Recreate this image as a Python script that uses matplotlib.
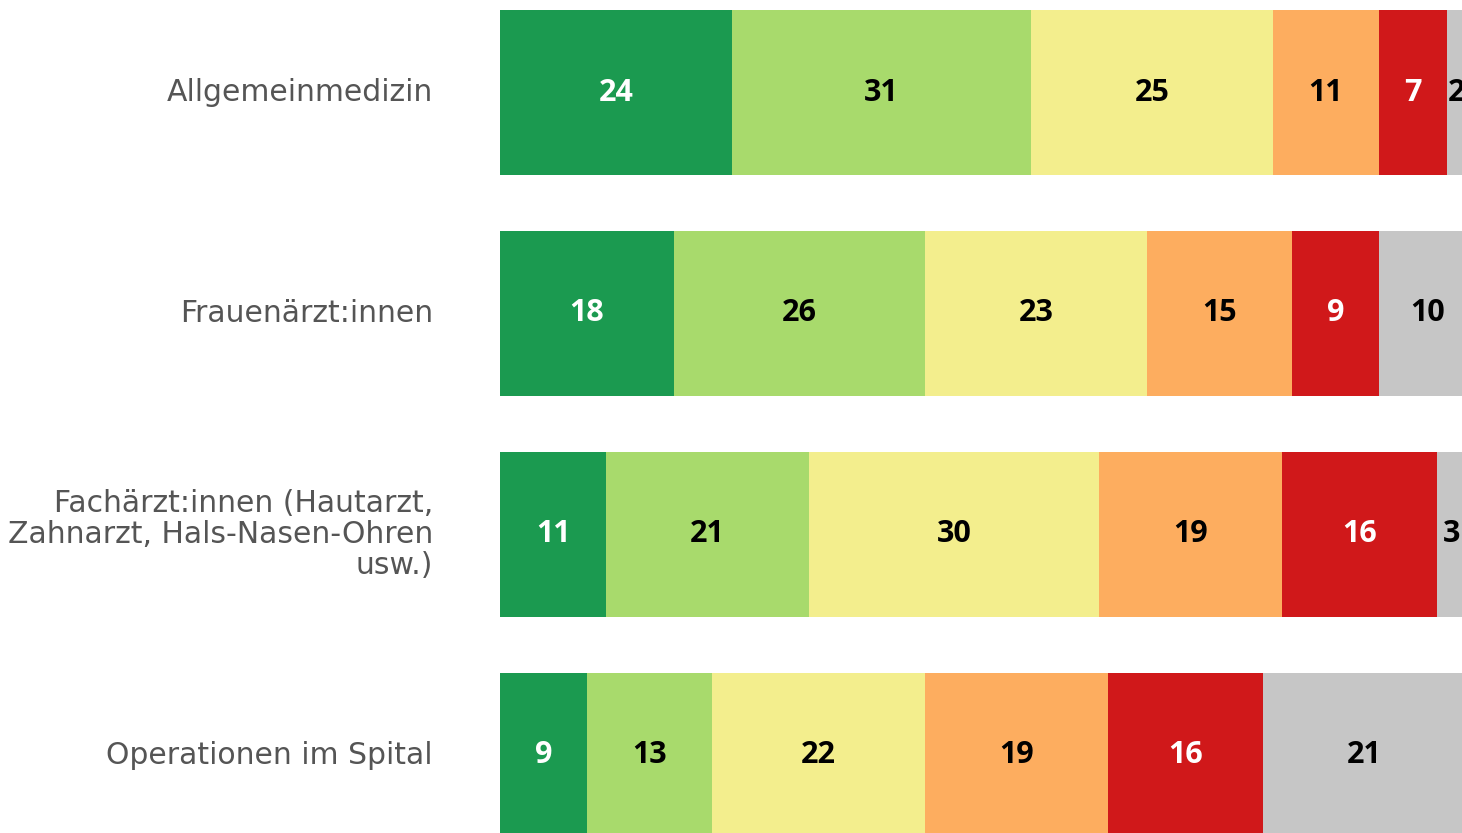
import matplotlib.pyplot as plt
import numpy as np

# --- Dados ---
kategorien = [
    "Allgemeinmedizin",
    "Frauenärzt:innen",
    "Fachärzt:innen (Hautarzt,\nZahnarzt, Hals-Nasen-Ohren\nusw.)",
    "Operationen im Spital",
]
sehr_gut = [24, 18, 11, 9]
eher_gut = [31, 26, 21, 13]
mittel = [25, 23, 30, 22]
eher_schlecht = [11, 15, 19, 19]
sehr_schlecht = [7, 9, 16, 16]
weiss_nicht = [2, 10, 3, 21]

serien = [sehr_gut, eher_gut, mittel, eher_schlecht, sehr_schlecht, weiss_nicht]
farben = ['#1b9a50', '#a8da6c', '#f3ee8d', '#fdad5f', '#d0181a', '#c6c6c6']
text_farben = ['white', 'black', 'black', 'black', 'white', 'black']

plt.rcParams['font.family'] = ['Open Sans', 'DejaVu Sans']

fig = plt.figure(figsize=(14.62, 8.33), dpi=100)
ax = fig.add_axes([500 / 1462, 0, 1 - 500 / 1462, 1])

y = np.arange(len(kategorien))
links = np.zeros(len(kategorien))
for werte, farbe, tf in zip(serien, farben, text_farben):
    werte = np.array(werte, dtype=float)
    ax.barh(y, werte, left=links, height=0.747, color=farbe, linewidth=0)
    for yi, l, w in zip(y, links, werte):
        ax.text(l + w / 2, yi, f"{int(w)}", ha='center', va='center',
                color=tf, fontsize=22, fontweight='bold', clip_on=False)
    links += werte

ax.set_xlim(0, 99.6)
ax.set_ylim(3.351, -0.4186)
ax.axis('off')

# Rótulos das categorias
for yi, nome in zip(y, kategorien):
    fig.text(433 / 1462, 1 - (92.5 + yi * 221) / 833, nome, ha='right', va='center',
             fontsize=21.5, color='#555555', multialignment='right', linespacing=1.08,
             family=['DejaVu Sans'])

plt.savefig('out.png', dpi=100)
